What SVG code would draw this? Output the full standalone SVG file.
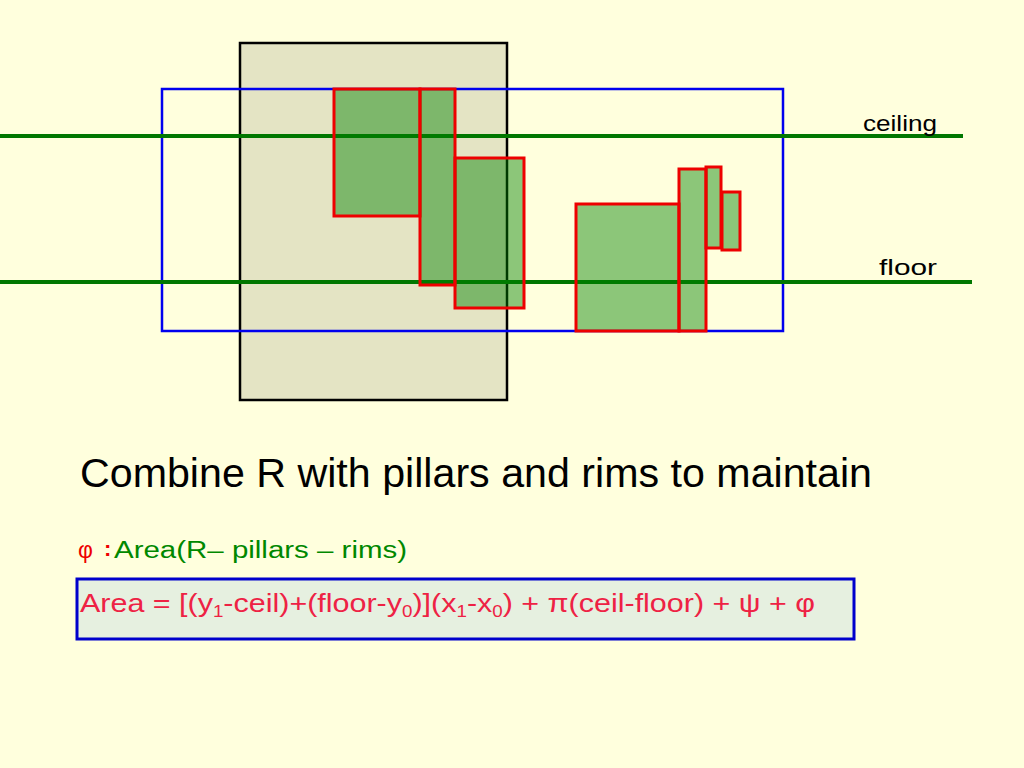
<svg xmlns="http://www.w3.org/2000/svg" width="1024" height="768" viewBox="0 0 1024 768">
<style>
.pr{fill:#008000;fill-opacity:0.45;stroke:#ee0000;stroke-width:3}
.gl{stroke:#007700;stroke-width:4}
.t{font-family:"Liberation Sans",Arial,sans-serif}
</style>
<rect width="1024" height="768" fill="#ffffdd"/>
<g id="region">
<rect x="240" y="43" width="267" height="357" fill="#e4e4c4" stroke="#000" stroke-width="2.5"/>
</g>
<g id="bounds">
<rect x="162" y="89" width="621" height="242" fill="none" stroke="#0000ee" stroke-width="2.5"/>
</g>
<g id="lines">
<line class="gl" x1="0" y1="136" x2="963" y2="136"/>
<line class="gl" x1="0" y1="282" x2="972" y2="282"/>
<text class="t" x="863" y="131" font-size="22" fill="#000" textLength="74" lengthAdjust="spacingAndGlyphs">ceiling</text>
<text class="t" x="879" y="275" font-size="22" fill="#000" textLength="58" lengthAdjust="spacingAndGlyphs">floor</text>
</g>
<g id="pillars">
<rect class="pr" x="334" y="89" width="86" height="127"/>
<rect class="pr" x="420" y="89" width="35" height="196"/>
<rect class="pr" x="455" y="158" width="69" height="150"/>
<rect class="pr" x="576" y="204" width="103" height="127"/>
<rect class="pr" x="679" y="169" width="27" height="162"/>
<rect class="pr" x="706" y="167" width="15" height="81"/>
<rect class="pr" x="722" y="192" width="18" height="58"/>
</g>
<g id="text">
<text class="t" x="80" y="487" font-size="40" fill="#000" textLength="792" lengthAdjust="spacingAndGlyphs">Combine R with pillars and rims to maintain</text>
<text class="t" x="78" y="558" font-size="23" fill="#ee0000">φ</text>
<text class="t" x="104" y="556" font-size="22" font-weight="bold" fill="#ee0000">:</text>
<text class="t" x="114" y="558" font-size="23" fill="#008800" textLength="293" lengthAdjust="spacingAndGlyphs">Area(R– pillars – rims)</text>
</g>
<g id="formula">
<rect x="77" y="579" width="777" height="60" fill="#e6f0e0" stroke="#0000cc" stroke-width="3"/>
<text class="t" x="80" y="612" font-size="26" fill="#ee2244" textLength="735" lengthAdjust="spacingAndGlyphs">Area = [(y<tspan font-size="16" dy="5">1</tspan><tspan dy="-5">-ceil)+(floor-y</tspan><tspan font-size="16" dy="5">0</tspan><tspan dy="-5">)](x</tspan><tspan font-size="16" dy="5">1</tspan><tspan dy="-5">-x</tspan><tspan font-size="16" dy="5">0</tspan><tspan dy="-5">) + π(ceil-floor) + ψ + φ</tspan></text>
</g>
</svg>
